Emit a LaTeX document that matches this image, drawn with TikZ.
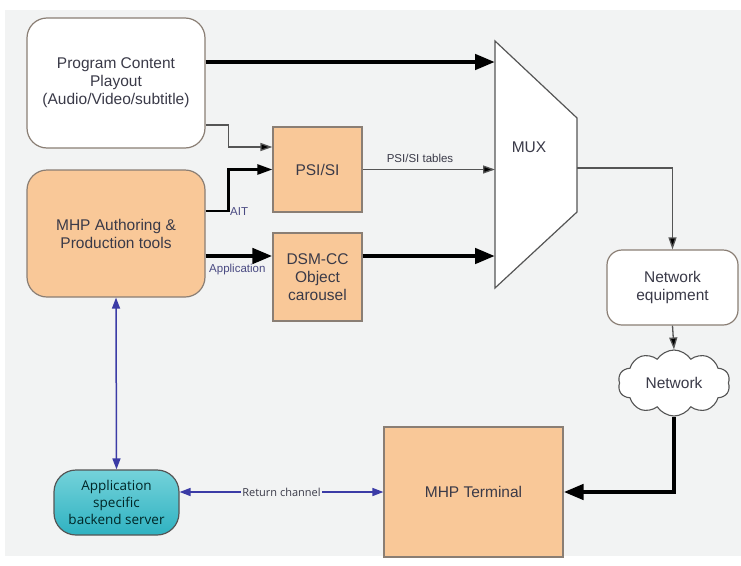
\documentclass[tikz,border=0pt]{standalone}
\usepackage{fontspec}
\setmainfont{Liberation Sans}
\newfontfamily\humfont{Open Sans}
\usetikzlibrary{arrows.meta,shapes.symbols}

\definecolor{pagebg}{HTML}{F2F3F3}
\definecolor{boxorange}{HTML}{F9C898}
\definecolor{boxedge}{HTML}{8A7E74}
\definecolor{txt}{HTML}{3A3A48}
\definecolor{lbl}{HTML}{4A4A82}
\definecolor{linkblue}{HTML}{3B3BA6}
\definecolor{tealtop}{HTML}{74D2DA}
\definecolor{tealbot}{HTML}{2FB2C1}
\definecolor{thinline}{HTML}{555555}

\tikzset{
  box/.style={draw=boxedge, line width=1.2pt, text=txt, align=center,
    font=\fontsize{15.5}{18}\selectfont, inner sep=2pt},
  whitebox/.style={box, fill=white, rounded corners=20pt},
  orangebox/.style={box, fill=boxorange},
  heavy/.style={line width=4.5pt, -{Triangle[length=20pt,width=15pt]}},
  medium/.style={line width=2.5pt, -{Triangle[length=15pt,width=10pt]}},
  light/.style={draw=thinline, line width=1.3pt, -{Triangle[length=12pt,width=8pt,fill=black]}},
  bluelink/.style={draw=linkblue, line width=1.5pt,
    {Triangle[length=11pt,width=8pt]}-{Triangle[length=11pt,width=8pt]}},
  smalllbl/.style={font=\fontsize{11.5}{13}\selectfont, text=lbl, inner sep=1pt},
}

\begin{document}
\begin{tikzpicture}[x=1pt, y=-1pt]
  \useasboundingbox (0,0) rectangle (741,565);
  \fill[white] (0,0) rectangle (741,565);
  \fill[pagebg] (5,10) rectangle (741,556);

  % sources
  \node[whitebox, minimum width=178pt, minimum height=130pt] (prog) at (116,83)
    {Program Content\\Playout\\(Audio/Video/subtitle)};
  \node[orangebox, rounded corners=20pt, minimum width=178pt, minimum height=127pt] (auth) at (116,233.5)
    {MHP Authoring \&\\Production tools};
  \node[orangebox, minimum width=89pt, minimum height=85pt] (psi) at (317.5,169.5) {PSI/SI};
  \node[orangebox, minimum width=89pt, minimum height=88pt] (dsm) at (317.5,277)
    {DSM-CC\\Object\\carousel};

  % multiplexer
  \coordinate (mA) at (495,41);
  \coordinate (mB) at (577,118);
  \coordinate (mC) at (577,212);
  \coordinate (mD) at (495,288);
  \coordinate (mOut) at (577,168);
  \fill[white, draw=thinline, line width=1.2pt] (mA) -- (mB) -- (mC) -- (mD) -- cycle;
  \node[text=txt, font=\fontsize{15.5}{18}\selectfont] (mux) at (529,147) {MUX};

  % distribution
  \node[whitebox, rounded corners=15pt, minimum width=131pt, minimum height=75pt] (neteq) at (672.5,287.5)
    {Network\\equipment};
  \node[cloud, cloud puffs=10, cloud puff arc=115, aspect=1.7, draw=thinline, line width=1.1pt,
    fill=white, text=txt, font=\fontsize{15.5}{18}\selectfont,
    minimum width=112pt, minimum height=66pt, inner sep=0pt] (net) at (674,383) {Network};
  \node[orangebox, minimum width=179pt, minimum height=130pt] (term) at (473.5,492) {MHP Terminal};
  \node[draw=thinline, line width=1.2pt, rounded corners=22pt, top color=tealtop, bottom color=tealbot,
    text=black!70!teal, align=center, font=\humfont\fontsize{13.5}{17}\selectfont,
    minimum width=125pt, minimum height=65pt, inner sep=1pt] (backend) at (116.5,502.5)
    {Application\\specific\\backend server};

  % broadcast chain
  \draw[heavy] (prog.east |- 0,62) -- (mA |- 0,62);
  \draw[light] ([yshift=-42pt]prog.east) -- ++(23,0) |- ([yshift=22.5pt]psi.west);
  \draw[medium] ([yshift=22.5pt]auth.east) -- ++(23,0) |- (psi.west);
  \node[smalllbl, anchor=west] (aitlbl) at (229,212) {AIT};
  \draw[heavy] ([yshift=-22.5pt]auth.east) -- ([yshift=-22.5pt]auth.east -| dsm.west);
  \node[smalllbl, anchor=west] (applbl) at (208,270) {Application};
  \draw[light] (psi.east) -- (psi.east -| mA);
  \node[smalllbl, text=txt] (tbllbl) at (420,158) {PSI/SI tables};
  \draw[heavy] ([yshift=21pt]dsm.east) -- ([yshift=21pt]dsm.east -| mA);
  \draw[light] (mOut) -| (neteq.north);
  \draw[light] (neteq.south) -- (net.north);
  \draw[heavy] (net.south) |- (term.east);

  % interaction channel
  \draw[bluelink] (auth.south) -- (backend.north);
  \draw[bluelink] (term.west -| backend.east) -- (term.west)
    node[pos=0.5, fill=pagebg, text=txt, font=\humfont\fontsize{11}{13}\selectfont, inner sep=1pt] (retlbl)
    {Return channel};
\end{tikzpicture}
\end{document}
